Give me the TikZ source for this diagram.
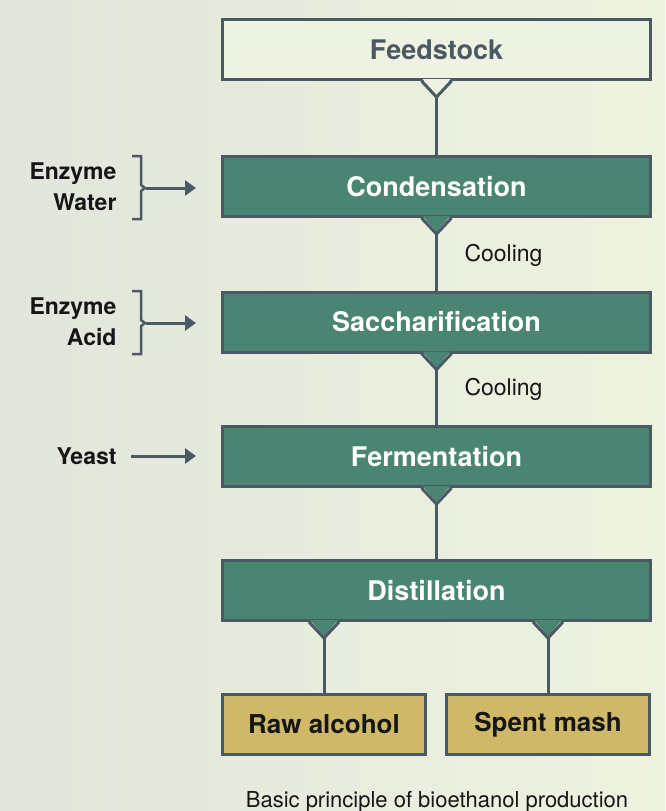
\documentclass[tikz,border=0pt]{standalone}
\usepackage{fontspec}
\setmainfont{TeX Gyre Heros}
\usetikzlibrary{arrows.meta,calc}
\definecolor{slate}{HTML}{4B5A62}
\definecolor{stepgreen}{HTML}{4A8574}
\definecolor{gold}{HTML}{CFB867}
\definecolor{feedfill}{HTML}{EEF2E3}
\definecolor{bgleft}{HTML}{E1E5DC}
\definecolor{bgright}{HTML}{EEF3DF}
\definecolor{ink}{HTML}{161616}
\tikzset{
  every picture/.style={line join=miter, >=Stealth},
  stage/.style={draw=slate, line width=3pt, fill=stepgreen, text=white, minimum width=428pt, minimum height=60pt, font=\fontsize{27}{32}\selectfont\bfseries},
  feed/.style={stage, fill=feedfill, text=slate},
  product/.style={stage, fill=gold, text=ink, minimum width=203pt, font=\fontsize{26}{30}\selectfont\bfseries},
  link/.style={draw=slate, line width=3pt},
  feedarrow/.style={draw=slate, line width=3pt, -{Triangle[length=11pt,width=15pt]}},
  input/.style={align=right, anchor=east, font=\fontsize{23}{31}\selectfont\bfseries, text=ink},
  note/.style={anchor=west, font=\fontsize{23}{28}\selectfont, text=ink},
}
% V-shaped tab under a box: fill colour, node, x offset, tip name
\newcommand{\notch}[4]{%
  \fill[#1] ($(#2.south)+(#3-14,-2)$) -- ($(#2.south)+(#3,14)$) -- ($(#2.south)+(#3+14,-2)$) -- cycle;
  \draw[link] ($(#2.south)+(#3-15,0)$) -- ($(#2.south)+(#3,16)$) -- ($(#2.south)+(#3+15,0)$);
  \coordinate (#4) at ($(#2.south)+(#3,16)$);
}
\begin{document}
\begin{tikzpicture}[x=1pt,y=-1pt]
\useasboundingbox (0,0) rectangle (665,811);
\shade[left color=bgleft, right color=bgright] (0,0) rectangle (665,811);

% process stages
\node[feed] (feed) at (436.5,49.5) {Feedstock};
\node[stage] (cond) at (436.5,186.5) {Condensation};
\node[stage] (sacch) at (436.5,322) {Saccharification};
\node[stage] (ferm) at (436.5,456.5) {Fermentation};
\node[stage] (dist) at (436.5,590.5) {Distillation};
\node[product] (raw) at (324,724.5) {Raw alcohol};
\node[product] (mash) at (548,724.5) {Spent mash};

\notch{feedfill}{feed}{0}{feedtip}
\notch{stepgreen}{cond}{0}{condtip}
\notch{stepgreen}{sacch}{0}{sacchtip}
\notch{stepgreen}{ferm}{0}{fermtip}
\notch{stepgreen}{dist}{-112.5}{rawtip}
\notch{stepgreen}{dist}{111.5}{mashtip}

\draw[link] (feedtip) -- (cond.north);
\draw[link] (condtip) -- (sacch.north);
\draw[link] (sacchtip) -- (ferm.north);
\draw[link] (fermtip) -- (dist.north);
\draw[link] (rawtip) -- (rawtip |- raw.north);
\draw[link] (mashtip) -- (mashtip |- mash.north);

\node[note] (cool1) at (461,255) {Cooling};
\node[note] (cool2) at (461,389) {Cooling};

% inputs
\node[input] (in1) at (120,187) {Enzyme\\Water};
\draw[link, line width=2.5pt] (132,156) -- (141,156) -- (141,185) -- (145,188) -- (141,191) -- (141,219) -- (132,219);
\coordinate (in1a) at (146,188);
\coordinate (in1b) at (196,188);
\draw[feedarrow] (in1a) -- (in1b);

\node[input] (in2) at (120,322) {Enzyme\\Acid};
\draw[link, line width=2.5pt] (132,291) -- (141,291) -- (141,320) -- (145,323) -- (141,326) -- (141,354) -- (132,354);
\coordinate (in2a) at (146,323);
\coordinate (in2b) at (196,323);
\draw[feedarrow] (in2a) -- (in2b);

\node[input] (in3) at (120,456) {Yeast};
\coordinate (in3a) at (131,456);
\coordinate (in3b) at (196,456);
\draw[feedarrow] (in3a) -- (in3b);

\node[anchor=base, font=\fontsize{22}{26}\selectfont, text=ink] (caption) at (437,807) {Basic principle of bioethanol production};
\end{tikzpicture}
\end{document}
